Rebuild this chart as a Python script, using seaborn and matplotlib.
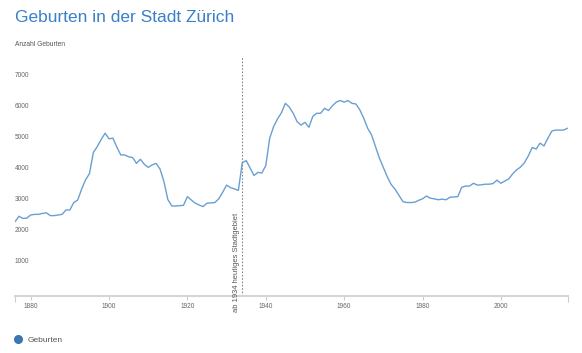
import numpy as np
import pandas as pd
import matplotlib
matplotlib.use("Agg")
import matplotlib.pyplot as plt
import seaborn as sns

# births per year in the city of Zurich
years = list(range(1876, 2018))
births = [
    2250, 2430, 2360, 2370, 2470, 2490, 2490, 2520, 2540, 2450,  # 1876-1885
    2450, 2470, 2490, 2630, 2630, 2870, 2950, 3300, 3600, 3800,  # 1886-1895
    4480, 4670, 4900, 5100, 4920, 4940, 4650, 4400, 4400, 4340,  # 1896-1905
    4320, 4130, 4260, 4100, 4000, 4080, 4130, 3950, 3550, 2970,  # 1906-1915
    2760, 2760, 2770, 2780, 3060, 2950, 2850, 2790, 2740, 2850,  # 1916-1925
    2860, 2870, 2990, 3200, 3430, 3350, 3310, 3260, 4150, 4220,  # 1926-1935
    3980, 3740, 3840, 3820, 4060, 4940, 5310, 5560, 5760, 6060,  # 1936-1945
    5940, 5740, 5470, 5360, 5450, 5290, 5640, 5740, 5740, 5900,  # 1946-1955
    5830, 5980, 6100, 6150, 6100, 6150, 6060, 6040, 5850, 5580,  # 1956-1965
    5260, 5040, 4670, 4300, 4000, 3700, 3450, 3300, 3100, 2900,  # 1966-1975
    2870, 2870, 2880, 2940, 2990, 3080, 3010, 2990, 2960, 2980,  # 1976-1985
    2960, 3040, 3050, 3060, 3360, 3400, 3400, 3490, 3430, 3440,  # 1986-1995
    3460, 3460, 3480, 3590, 3490, 3560, 3630, 3790, 3920, 4010,  # 1996-2005
    4150, 4370, 4640, 4590, 4780, 4690, 4940, 5170, 5200, 5200,  # 2006-2015
    5200, 5260,                                                  # 2016-2017
]
y_ticks = [1000, 2000, 3000, 4000, 5000, 6000, 7000]
x_ticks = [1880, 1900, 1920, 1940, 1960, 1980, 2000]
marker_year = 1934
marker_text = "ab 1934 heutiges Stadtgebiet"

df = pd.DataFrame({"Jahr": years, "Geburten": births})

sns.set_theme(style="white")
plt.rcParams["font.family"] = ["Liberation Sans", "DejaVu Sans"]

line_col = "#6a9fd2"
grey_txt = "#666666"

fig = plt.figure(figsize=(5.82, 3.53), dpi=100)
W, H = 582, 353
ax = fig.add_axes([15 / W, 1 - 296 / H, (567.5 - 15) / W, (296 - 57) / H])

sns.lineplot(data=df, x="Jahr", y="Geburten", ax=ax, color=line_col, lw=1.0, legend=False)

ax.set_xlim(years[0], years[-1])
ax.set_ylim(-135, 7550)

# y ticks drawn inside the plot, left-aligned
ax.set_yticks(y_ticks)
ax.set_yticklabels([str(v) for v in y_ticks])
ax.tick_params(axis="y", length=0, pad=0, labelsize=4.7, labelcolor=grey_txt)
for lab in ax.get_yticklabels():
    lab.set_horizontalalignment("left")

ax.set_xticks(x_ticks)
ax.set_xticks([years[0], years[-1]], minor=True)
ax.tick_params(axis="x", which="major", length=3, width=0.8, color="#cccccc",
               pad=2, labelsize=4.7, labelcolor=grey_txt)
ax.tick_params(axis="x", which="minor", length=4, width=0.8, color="#cccccc")
ax.tick_params(axis="x", bottom=True, which="both")

for s in ["top", "right", "left"]:
    ax.spines[s].set_visible(False)
ax.spines["bottom"].set_color("#d5d5d5")
ax.spines["bottom"].set_linewidth(1.5)
ax.set_xlabel("")
ax.set_ylabel("")
ax.grid(False)

# 1934 marker
ax.axvline(marker_year, color="#888888", lw=0.8, ls=(0, (1.5, 1.5)))
ax.text(marker_year - 0.5, -650, marker_text, rotation=90, ha="right", va="bottom",
        fontsize=5.4, color="#555555", clip_on=False)

fig.text(15 / W, 1 - 22 / H, "Geburten in der Stadt Zürich", fontsize=12.5,
         color="#3a80c9", va="baseline", ha="left")
fig.text(15 / W, 1 - 45 / H, "Anzahl Geburten", fontsize=4.8, color="#555555",
         va="center", ha="left")

# legend
fig.legend(handles=[plt.Line2D([], [], marker="o", ls="", color="#3b78b0", markersize=5.5)],
           labels=["Geburten"], loc="center left", bbox_to_anchor=(14 / W, 1 - 340 / H),
           frameon=False, fontsize=6, labelcolor="#555555", handletextpad=0.6,
           handlelength=1.0, borderpad=0, borderaxespad=0)

fig.savefig("out.png", dpi=100)
